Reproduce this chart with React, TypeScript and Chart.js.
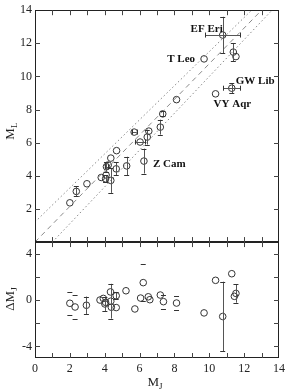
import React, { useEffect, useRef } from "react";
import { Chart, registerables } from "chart.js";
Chart.register(...registerables);

// ---- data (top panel: M_L vs M_J) ----
const topX = [2.0, 2.37, 2.98, 3.8, 4.05, 4.35, 4.08, 4.1, 4.2, 4.35, 4.68, 4.66, 5.26, 5.69, 6.03, 6.25, 6.44, 6.53, 7.19, 7.33, 8.12, 9.7, 10.36, 10.77, 11.29, 11.38, 11.53];
const topY = [2.37, 3.06, 3.52, 3.9, 3.82, 3.72, 4.05, 4.55, 4.65, 5.07, 5.52, 4.42, 4.6, 6.64, 6.04, 4.89, 6.34, 6.7, 6.94, 7.74, 8.6, 11.06, 8.95, 12.5, 9.29, 11.47, 11.2];
const topXErr = [0, 0, 0, 0, 0, 0, 0, 0.1, 0, 0, 0, 0, 0, 0.15, 0.3, 0, 0, 0, 0, 0, 0, 0, 0, 1.0, 0.5, 0, 0];
const topYErr = [0, 0.3, 0, 0, 0.2, 0.75, 0, 0.3, 0, 0, 0, 0.4, 0.55, 0, 0, 0.75, 0.45, 0, 0.45, 0.15, 0, 0, 0, 1.1, 0.3, 0.55, 0];

// ---- data (bottom panel: residuals) ----
const resX = [2.0, 2.3, 2.95, 3.73, 3.92, 4.01, 4.05, 4.35, 4.33, 4.38, 4.66, 4.66, 5.22, 5.73, 6.06, 6.21, 6.5, 6.59, 7.19, 7.37, 8.12, 9.7, 10.36, 10.77, 11.29, 11.44, 11.53];
const resY = [-0.28, -0.6, -0.45, 0.0, 0.14, -0.34, -0.2, -0.1, 0.7, -0.62, 0.37, -0.65, 0.8, -0.77, 0.17, 1.5, 0.28, 0.03, 0.43, -0.14, -0.26, -1.11, 1.7, -1.42, 2.27, 0.32, 0.57];
const resErr = [0, 0, 0.75, 0, 0, 0.6, 0, 1.5, 0, 0, 0.3, 0, 0, 0, 0, 0, 0, 0, 0, 0, 0, 0, 0, 3.0, 0, 0, 0.8];
const resCapErr = [1.0, 1.0, 0, 0, 0, 0, 0, 0, 0, 0, 0, 0, 0, 0, 0, 1.6, 0, 0, 0, 0.6, 0.6, 0, 0, 0, 0, 0, 0];

// ---- fit line and bands ----
const fitX = [0, 13.0];
const fitY = [0, 14];
const upperX = [0, 12.43];
const upperY = [1.21, 14];
const lowerX = [1.0, 13.6];
const lowerY = [0, 14];

// ---- named stars ----
const starNames = ["EF Eri", "T Leo", "GW Lib", "VY Aqr", "Z Cam"];
const starX = [10.77, 9.7, 11.29, 10.36, 6.25];
const starY = [12.5, 11.06, 9.29, 8.95, 4.89];

const xTicks = [0, 2, 4, 6, 8, 10, 12, 14];
const topTicks = [2, 4, 6, 8, 10, 12, 14];
const botTicks = [-4, -2, 0, 2, 4];

const SERIF = '"Liberation Serif", "DejaVu Serif", serif';
const INK = "#222";

const labelStyle: Record<string, { dx: number; dy: number; align: CanvasTextAlign }> = {
  "EF Eri": { dx: 0, dy: -6, align: "right" },
  "T Leo": { dx: -9, dy: 0, align: "right" },
  "GW Lib": { dx: 4, dy: -7, align: "left" },
  "VY Aqr": { dx: -2, dy: 10, align: "left" },
  "Z Cam": { dx: 9, dy: 3, align: "left" },
};

function subText(ctx: CanvasRenderingContext2D, main: string, sub: string, x: number, y: number, rot: number) {
  ctx.save();
  ctx.translate(x, y);
  ctx.rotate(rot);
  ctx.fillStyle = INK;
  ctx.textAlign = "left";
  ctx.textBaseline = "alphabetic";
  ctx.font = `13px ${SERIF}`;
  const w1 = ctx.measureText(main).width;
  ctx.font = `9px ${SERIF}`;
  const w2 = ctx.measureText(sub).width;
  const start = -(w1 + w2) / 2;
  ctx.font = `13px ${SERIF}`;
  ctx.fillText(main, start, 4);
  ctx.font = `9px ${SERIF}`;
  ctx.fillText(sub, start + w1, 7);
  ctx.restore();
}

const decorPlugin = {
  id: "decor",
  afterDatasetsDraw(chart: any) {
    const ctx: CanvasRenderingContext2D = chart.ctx;
    const xs = chart.scales.x;
    const yt = chart.scales.yTop;
    const yb = chart.scales.yBot;
    const L = chart.chartArea.left;
    const R = chart.chartArea.right;
    ctx.save();

    // error bars
    const drawErr = (px: number, py: number, x0: number, x1: number, y0: number, y1: number, barColor: string) => {
      const cap = 2.5;
      ctx.strokeStyle = barColor;
      ctx.lineWidth = 1;
      if (y0 !== y1) {
        ctx.beginPath();
        ctx.moveTo(Math.round(px) + 0.5, y0);
        ctx.lineTo(Math.round(px) + 0.5, y1);
        ctx.stroke();
        ctx.strokeStyle = "#333";
        ctx.beginPath();
        ctx.moveTo(px - cap, Math.round(y0) + 0.5);
        ctx.lineTo(px + cap, Math.round(y0) + 0.5);
        ctx.moveTo(px - cap, Math.round(y1) + 0.5);
        ctx.lineTo(px + cap, Math.round(y1) + 0.5);
        ctx.stroke();
      }
      if (x0 !== x1) {
        ctx.strokeStyle = barColor;
        ctx.beginPath();
        ctx.moveTo(x0, Math.round(py) + 0.5);
        ctx.lineTo(x1, Math.round(py) + 0.5);
        ctx.stroke();
        ctx.strokeStyle = "#333";
        ctx.beginPath();
        ctx.moveTo(Math.round(x0) + 0.5, py - cap);
        ctx.lineTo(Math.round(x0) + 0.5, py + cap);
        ctx.moveTo(Math.round(x1) + 0.5, py - cap);
        ctx.lineTo(Math.round(x1) + 0.5, py + cap);
        ctx.stroke();
      }
    };
    topX.forEach((x, i) => {
      const px = xs.getPixelForValue(x);
      const py = yt.getPixelForValue(topY[i]);
      const ye = topYErr[i];
      const xe = topXErr[i];
      if (ye || xe) {
        drawErr(
          px, py,
          xs.getPixelForValue(x - xe), xs.getPixelForValue(x + xe),
          yt.getPixelForValue(topY[i] + ye), yt.getPixelForValue(topY[i] - ye),
          "#555"
        );
      }
    });
    resX.forEach((x, i) => {
      const px = xs.getPixelForValue(x);
      const py = yb.getPixelForValue(resY[i]);
      if (resErr[i]) {
        drawErr(px, py, px, px, yb.getPixelForValue(resY[i] + resErr[i]), yb.getPixelForValue(resY[i] - resErr[i]), "#555");
      }
      if (resCapErr[i]) {
        drawErr(px, py, px, px, yb.getPixelForValue(resY[i] + resCapErr[i]), yb.getPixelForValue(resY[i] - resCapErr[i]), "rgba(0,0,0,0)");
      }
    });

    // panel frames
    ctx.strokeStyle = INK;
    ctx.lineWidth = 1;
    const frame = (s: any) => {
      const t = Math.round(s.top) + 0.5;
      const b = Math.round(s.bottom) - 0.5;
      ctx.strokeRect(Math.round(L) + 0.5, t, Math.round(R) - Math.round(L) - 1, b - t);
    };
    frame(yt);
    frame(yb);

    // inward tick marks
    const tl = 5;
    ctx.strokeStyle = "#444";
    ctx.beginPath();
    for (let v = 1; v < 14; v++) {
      const px = Math.round(xs.getPixelForValue(v)) + 0.5;
      const edges: [number, number][] = [
        [yt.top, 1], [yt.bottom, -1], [yb.top, 1], [yb.bottom, -1],
      ];
      edges.forEach(([e, d]) => {
        ctx.moveTo(px, e);
        ctx.lineTo(px, e + d * tl);
      });
    }
    topTicks.forEach((v) => {
      if (v >= 14) return;
      const py = Math.round(yt.getPixelForValue(v)) + 0.5;
      ctx.moveTo(L, py); ctx.lineTo(L + tl, py);
      ctx.moveTo(R, py); ctx.lineTo(R - tl, py);
    });
    botTicks.forEach((v) => {
      const py = Math.round(yb.getPixelForValue(v)) + 0.5;
      ctx.moveTo(L, py); ctx.lineTo(L + tl, py);
      ctx.moveTo(R, py); ctx.lineTo(R - tl, py);
    });
    ctx.stroke();

    // star labels
    ctx.fillStyle = "#111";
    ctx.font = `bold 11px ${SERIF}`;
    ctx.textBaseline = "middle";
    starNames.forEach((n, i) => {
      const st = labelStyle[n];
      ctx.textAlign = st.align;
      ctx.fillText(n, xs.getPixelForValue(starX[i]) + st.dx, yt.getPixelForValue(starY[i]) + st.dy);
    });

    // axis titles
    subText(ctx, "M", "L", 10, (yt.top + yt.bottom) / 2 + 5, -Math.PI / 2);
    subText(ctx, "ΔM", "J", 10, (yb.top + yb.bottom) / 2 - 1, -Math.PI / 2);
    subText(ctx, "M", "J", (L + R) / 2 - 2, 382, 0);
    ctx.restore();
  },
};

export default function App() {
  const ref = useRef<HTMLCanvasElement | null>(null);
  useEffect(() => {
    if (!ref.current) return;
    const pointStyleOpts = {
      pointRadius: 3.3,
      pointBorderWidth: 1,
      pointBorderColor: "#333",
      pointBackgroundColor: "rgba(0,0,0,0)",
      pointHoverRadius: 3.3,
    };
    const lineDs = (xa: number[], ya: number[], dash: number[]) => ({
      type: "line" as const,
      data: xa.map((x, i) => ({ x, y: ya[i] })),
      yAxisID: "yTop",
      borderColor: "#8a8a8a",
      borderWidth: 1,
      borderDash: dash,
      pointRadius: 0,
      fill: false,
    });
    const chart = new Chart(ref.current, {
      type: "scatter",
      data: {
        datasets: [
          lineDs(upperX, upperY, [1.5, 2.5]) as any,
          lineDs(fitX, fitY, [5, 4]) as any,
          lineDs(lowerX, lowerY, [1.5, 2.5]) as any,
          {
            data: topX.map((x, i) => ({ x, y: topY[i] })),
            yAxisID: "yTop",
            ...pointStyleOpts,
          },
          {
            data: resX.map((x, i) => ({ x, y: resY[i] })),
            yAxisID: "yBot",
            ...pointStyleOpts,
          },
        ],
      },
      options: {
        animation: false,
        responsive: false,
        events: [],
        layout: { padding: { top: 8, right: 4, left: 0, bottom: 0 } },
        plugins: { legend: { display: false }, tooltip: { enabled: false } },
        scales: {
          x: {
            type: "linear",
            position: "bottom",
            min: 0,
            max: 14,
            afterBuildTicks: (s: any) => { s.ticks = xTicks.map((v) => ({ value: v })); },
            afterFit: (s: any) => { s.height = 34; },
            grid: { display: false, drawTicks: false },
            border: { display: false },
            ticks: { padding: 4, color: INK, font: { family: SERIF, size: 12 }, maxRotation: 0 },
          },
          yTop: {
            type: "linear",
            position: "left",
            stack: "panels",
            stackWeight: 2,
            weight: 1,
            min: 0,
            max: 14,
            afterBuildTicks: (s: any) => { s.ticks = topTicks.map((v) => ({ value: v })); },
            afterFit: (s: any) => { s.width = 35; },
            grid: { display: false, drawTicks: false },
            border: { display: false },
            ticks: { padding: 3, color: INK, font: { family: SERIF, size: 12 } },
          },
          yBot: {
            type: "linear",
            position: "left",
            stack: "panels",
            stackWeight: 1,
            weight: 0,
            min: -5,
            max: 5,
            afterBuildTicks: (s: any) => { s.ticks = botTicks.map((v) => ({ value: v })); },
            afterFit: (s: any) => { s.width = 35; },
            grid: { display: false, drawTicks: false },
            border: { display: false },
            ticks: { padding: 3, color: INK, font: { family: SERIF, size: 12 } },
          },
        },
      } as any,
      plugins: [decorPlugin],
    });
    return () => chart.destroy();
  }, []);
  return (
    <div style={{ position: "fixed", left: 0, top: 0, width: 289, height: 392, background: "#fff" }}>
      <canvas ref={ref} width={289} height={392} style={{ display: "block" }} />
    </div>
  );
}
